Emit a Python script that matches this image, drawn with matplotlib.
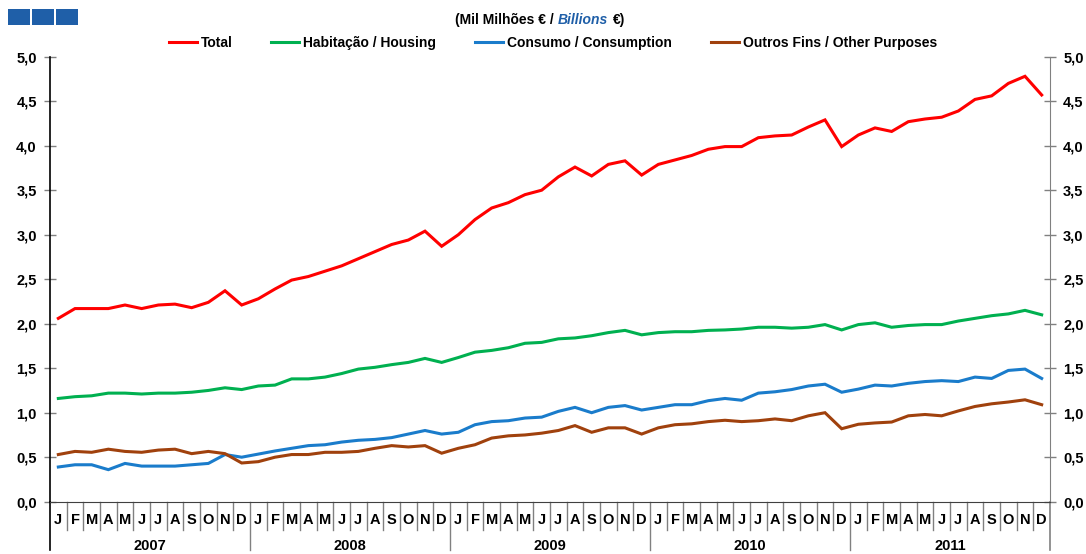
import matplotlib
matplotlib.use("Agg")
import matplotlib.pyplot as plt
import matplotlib.transforms as mtransforms
from matplotlib.patches import Rectangle
from matplotlib.ticker import FuncFormatter, MultipleLocator

plt.rcParams['font.family'] = ['Liberation Sans', 'DejaVu Sans']

years = ["2007", "2008", "2009", "2010", "2011"]
months = ["J", "F", "M", "A", "M", "J", "J", "A", "S", "O", "N", "D"]

total = [2.06, 2.17, 2.17, 2.17, 2.21, 2.17, 2.21, 2.22, 2.18, 2.24, 2.37, 2.21,
         2.28, 2.39, 2.49, 2.53, 2.59, 2.65, 2.73, 2.81, 2.89, 2.94, 3.04, 2.87,
         3.00, 3.17, 3.30, 3.36, 3.45, 3.50, 3.65, 3.76, 3.66, 3.79, 3.83, 3.67,
         3.79, 3.84, 3.89, 3.96, 3.99, 3.99, 4.09, 4.11, 4.12, 4.21, 4.29, 3.99,
         4.12, 4.20, 4.16, 4.27, 4.30, 4.32, 4.39, 4.52, 4.56, 4.70, 4.78, 4.57]
housing = [1.16, 1.18, 1.19, 1.22, 1.22, 1.21, 1.22, 1.22, 1.23, 1.25, 1.28, 1.26,
           1.30, 1.31, 1.38, 1.38, 1.40, 1.44, 1.49, 1.51, 1.54, 1.565, 1.61, 1.565,
           1.62, 1.68, 1.70, 1.73, 1.78, 1.79, 1.83, 1.84, 1.865, 1.90, 1.925, 1.875,
           1.90, 1.91, 1.91, 1.925, 1.93, 1.94, 1.96, 1.96, 1.95, 1.96, 1.99, 1.93,
           1.99, 2.01, 1.96, 1.98, 1.99, 1.99, 2.03, 2.06, 2.09, 2.11, 2.15, 2.10]
consumption = [0.39, 0.415, 0.415, 0.36, 0.43, 0.40, 0.40, 0.40, 0.415, 0.43, 0.53, 0.50,
               0.535, 0.57, 0.60, 0.63, 0.64, 0.67, 0.69, 0.70, 0.72, 0.76, 0.80, 0.76,
               0.78, 0.865, 0.90, 0.91, 0.94, 0.95, 1.015, 1.06, 1.00, 1.06, 1.08, 1.03,
               1.06, 1.09, 1.09, 1.135, 1.16, 1.14, 1.22, 1.235, 1.26, 1.30, 1.32, 1.23,
               1.265, 1.31, 1.30, 1.33, 1.35, 1.36, 1.35, 1.40, 1.385, 1.475, 1.49, 1.385]
other = [0.53, 0.565, 0.555, 0.59, 0.565, 0.555, 0.58, 0.59, 0.54, 0.565, 0.54, 0.435,
         0.45, 0.50, 0.53, 0.53, 0.555, 0.555, 0.565, 0.60, 0.63, 0.615, 0.63, 0.545,
         0.60, 0.64, 0.715, 0.74, 0.75, 0.77, 0.80, 0.855, 0.78, 0.83, 0.83, 0.76,
         0.83, 0.865, 0.875, 0.90, 0.915, 0.90, 0.91, 0.93, 0.91, 0.965, 1.00, 0.82,
         0.87, 0.885, 0.895, 0.965, 0.98, 0.965, 1.02, 1.07, 1.10, 1.12, 1.145, 1.09]

series_names = ["Total", "Habitação / Housing", "Consumo / Consumption",
                "Outros Fins / Other Purposes"]
series_colors = ["#FF0000", "#00B050", "#1A7CCB", "#A0410D"]

W, H = 1086, 554
fig = plt.figure(figsize=(W / 100, H / 100), dpi=100)
left_px, right_px, top_px, bot_px = 50, 1050, 56.7, 501.7
ax = fig.add_axes([left_px / W, 1 - bot_px / H, (right_px - left_px) / W, (bot_px - top_px) / H])

n = len(total)
x = list(range(n))
for vals, name, col in zip([total, housing, consumption, other], series_names, series_colors):
    ax.plot(x, vals, color=col, lw=2.2, label=name, solid_joinstyle='miter')

ax.set_xlim(-0.5, n - 0.5)
ax.set_ylim(0, 5)
ax.yaxis.set_major_locator(MultipleLocator(0.5))
fmt = FuncFormatter(lambda v, p: f"{v:.1f}".replace('.', ','))
ax.yaxis.set_major_formatter(fmt)
ax.tick_params(axis='y', direction='inout', length=9, width=1, color='#808080',
               labelsize=10.5, left=True, right=True, labelleft=True, labelright=True, pad=5)
ax.tick_params(axis='x', length=0, labelbottom=False)
ax.set_xticks([])

ax.spines['top'].set_visible(False)
ax.spines['left'].set_color('black')
ax.spines['right'].set_color('#808080')
ax.spines['bottom'].set_color('#404040')
ax.spines['left'].set_linewidth(1.2)

for t in ax.yaxis.get_major_ticks():
    t.label1.set_fontweight('bold')
    t.label2.set_fontweight('bold')

# month / year categorical axis
trans = mtransforms.blended_transform_factory(ax.transData, ax.transAxes)
axh = bot_px - top_px
mo_sep = 28 / axh
yr_sep = 48 / axh
for i in range(n):
    ax.text(i, -18 / axh, months[i % 12], transform=trans, ha='center', va='center',
            fontsize=10.5, fontweight='bold', clip_on=False)
for b in range(1, n):
    length = yr_sep if b % 12 == 0 else mo_sep
    ax.plot([b - 0.5, b - 0.5], [0, -length], transform=trans, color='#808080',
            lw=1, clip_on=False)
for edge, col in [(-0.5, 'black'), (n - 0.5, '#808080')]:
    ax.plot([edge, edge], [0, -yr_sep], transform=trans, color=col, lw=1.2, clip_on=False)
for k, yr in enumerate(years):
    ax.text(k * 12 + 5.5, -44.5 / axh, yr, transform=trans, ha='center', va='center',
            fontsize=10.5, fontweight='bold', clip_on=False)

# legend
leg = fig.legend(loc='center', bbox_to_anchor=(553 / W, 1 - 43 / H), ncol=4, frameon=False,
                 handlelength=2.0, handletextpad=0.3, columnspacing=2.8,
                 prop={'weight': 'bold', 'size': 10})
for line in leg.get_lines():
    line.set_linewidth(2.2)

# subtitle
t1 = fig.text(455 / W, 1 - 20 / H, "(Mil Milhões € / ", fontsize=10, fontweight='bold',
              ha='left', va='center')
fig.canvas.draw()
bb = t1.get_window_extent()
t2 = fig.text(bb.x1 / W, 1 - 20 / H, "Billions", fontsize=10, fontweight='bold',
              fontstyle='italic', color='#1F5FA8', ha='left', va='center')
fig.canvas.draw()
bb2 = t2.get_window_extent()
t3 = fig.text(bb2.x1 / W + 5 / W, 1 - 20 / H, "€)", fontsize=10, fontweight='bold',
              ha='left', va='center')

# decorative blue squares
for k in range(3):
    fig.patches.append(Rectangle(((8 + k * 24) / W, 1 - 25 / H), 22 / W, 16 / H,
                                 transform=fig.transFigure, facecolor='#1F5FA8',
                                 edgecolor='none'))

fig.savefig("out.png", dpi=100)
